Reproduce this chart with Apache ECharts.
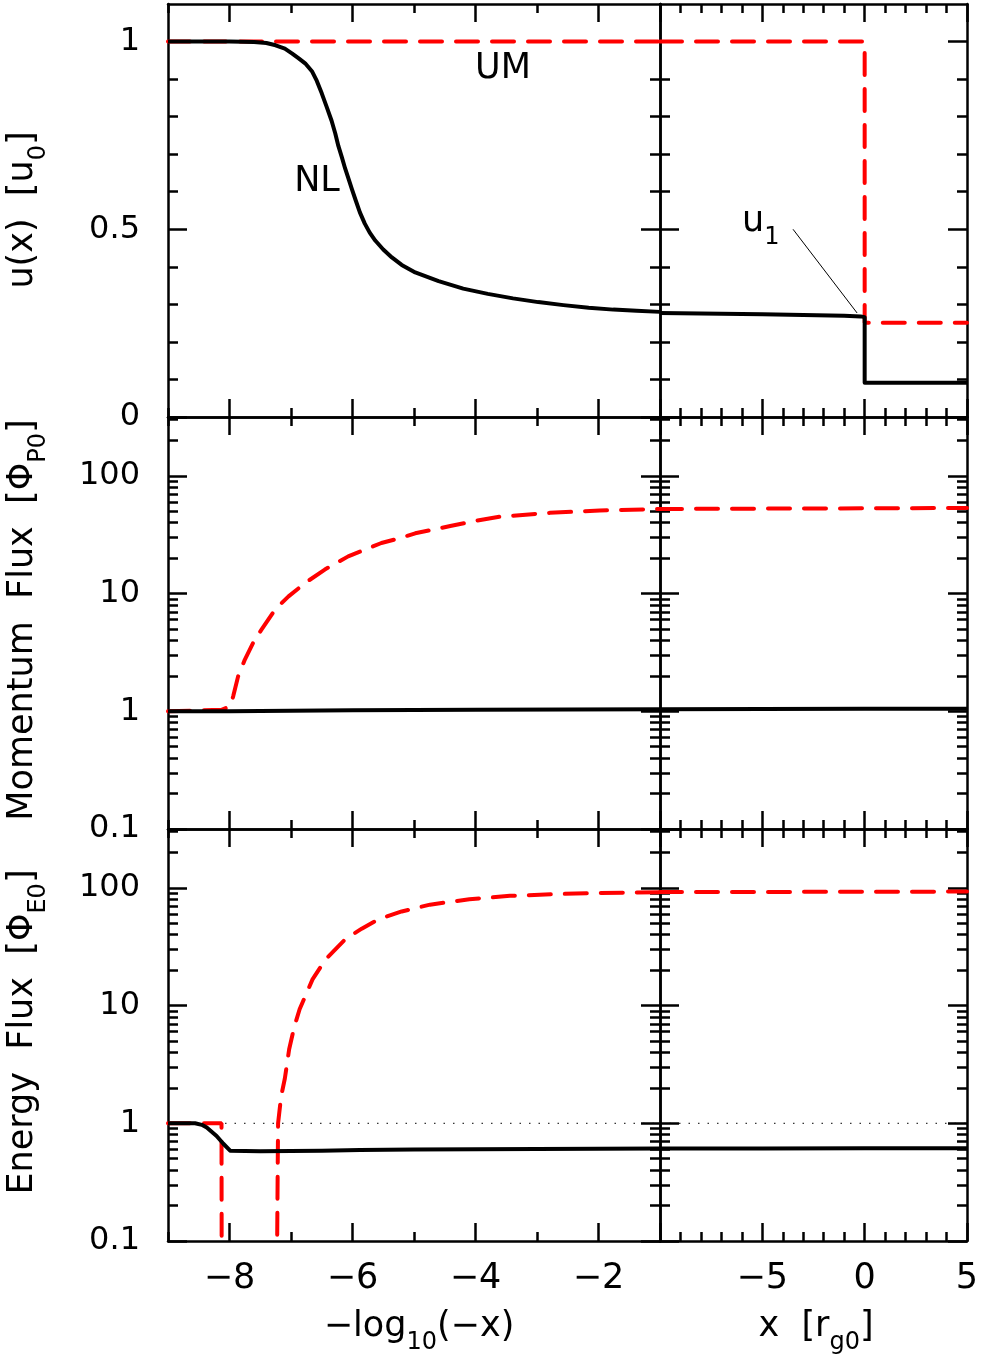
<!DOCTYPE html>
<html>
<head>
<meta charset="utf-8">
<script src="https://cdn.jsdelivr.net/npm/echarts@6/dist/echarts.min.js"></script>
<style>
  html, body { margin: 0; padding: 0; background: #fff; }
  #chart { width: 981px; height: 1363px; }
</style>
</head>
<body>
<div id="chart"></div>
<script>
// ---- ticks & labels ----
const xLeftMajor = [-8, -6, -4, -2];
const xLeftMinor = [-9, -7, -5, -3, -1];
const xLeftLabels = [-8, -6, -4, -2];
const xRightMajor = [-10, -5, 0, 5];
const xRightMinor = [-9, -8, -7, -6, -4, -3, -2, -1, 1, 2, 3, 4];
const xRightLabels = [-5, 0, 5];
const uMajor = [0, 0.5, 1];
const uMinor = [0.1, 0.2, 0.3, 0.4, 0.6, 0.7, 0.8, 0.9];
const uLabels = [0, 0.5, 1];
const fluxMajor = [0.1, 1, 10, 100];
const fluxMinor = [0.2, 0.3, 0.4, 0.5, 0.6, 0.7, 0.8, 0.9,
                   2, 3, 4, 5, 6, 7, 8, 9,
                   20, 30, 40, 50, 60, 70, 80, 90, 200, 300];
const fluxLabels = [0.1, 1, 10, 100];

// ---- u(x) ----
const uNlLog = [[-9, 1.0], [-8.5, 1.0], [-8.0, 1.0], [-7.6, 0.999], [-7.4, 0.996], [-7.25, 0.99],
  [-7.1, 0.981], [-6.98, 0.968], [-6.88, 0.956], [-6.77, 0.942], [-6.66, 0.921], [-6.58, 0.895],
  [-6.5, 0.862], [-6.42, 0.826], [-6.34, 0.789], [-6.28, 0.755], [-6.23, 0.722], [-6.17, 0.69],
  [-6.12, 0.662], [-6.06, 0.632], [-6.01, 0.607], [-5.95, 0.578], [-5.88, 0.545], [-5.8, 0.515],
  [-5.72, 0.491], [-5.63, 0.47], [-5.5, 0.446], [-5.36, 0.425], [-5.2, 0.405], [-4.98, 0.385],
  [-4.6, 0.362], [-4.2, 0.342], [-3.8, 0.328], [-3.39, 0.316], [-2.98, 0.306], [-2.57, 0.298],
  [-2.16, 0.291], [-1.76, 0.286], [-1.38, 0.283], [-1.0, 0.280]];
const uUmLog = [[-9, 1], [-1, 1]];
const uNlLin = [[-10, 0.277], [-5, 0.274], [-1, 0.27], [-0.2, 0.268], [0, 0.266], [0, 0.091], [5, 0.091]];
const uUmLin = [[-10, 1], [0, 1], [0, 0.251], [5, 0.251]];
const u1Pointer = [[-3.5, 0.5], [-0.37, 0.277]];

// ---- momentum flux ----
const pNlLog = [[-9, 1.0], [-8, 1.0], [-6, 1.02], [-4, 1.03], [-1, 1.04]];
const pUmLog = [[-9, 1.0], [-8.13, 1.03], [-7.99, 1.1], [-7.94, 1.34], [-7.86, 1.98], [-7.75, 2.75],
  [-7.59, 4.06], [-7.48, 4.94], [-7.26, 7.3], [-7.04, 9.47], [-6.77, 12.3], [-6.45, 16],
  [-6.07, 20.7], [-5.53, 26.9], [-5.23, 29.6], [-4.98, 32.5], [-4.41, 37.5], [-4.0, 41.5],
  [-3.6, 45.0], [-2.79, 48.5], [-1.98, 50.8], [-1.0, 52.3]];
const pNlLin = [[-10, 1.04], [0, 1.05], [5, 1.05]];
const pUmLin = [[-10, 52.3], [-5, 52.7], [0, 53], [5, 53.3]];

// ---- energy flux ----
const eNlLog = [[-9, 1.0], [-8.56, 1.0], [-8.45, 0.97], [-8.37, 0.92], [-8.21, 0.78], [-8.1, 0.67],
  [-7.99, 0.585], [-7.5, 0.58], [-6.5, 0.585], [-5.88, 0.594], [-5, 0.6], [-3, 0.605], [-1, 0.61]];
const eUmLog = [[-9, 1], [-8.13, 1], [-8.125, 0.01], [-7.23, 0.01], [-7.225, 0.1], [-7.215, 0.5],
  [-7.21, 1.0], [-7.16, 1.7], [-7.1, 2.4], [-7.03, 4.25], [-6.95, 6.5], [-6.86, 9.3], [-6.65, 16.7],
  [-6.44, 24.6], [-6.12, 36.5], [-5.85, 45], [-5.58, 54], [-5.2, 63], [-4.74, 72], [-4.1, 80],
  [-3.44, 85.5], [-2.7, 88.5], [-1.98, 90.5], [-1, 92]];
const eNlLin = [[-10, 0.61], [-5, 0.612], [0, 0.615], [5, 0.615]];
const eUmLin = [[-10, 92], [5, 93]];
const unityLog = [[-9, 1], [-1, 1]];
const unityLin = [[-10, 1], [5, 1]];

const FONT = 'DejaVu Sans';
const fmt = (v) => (v < 0 ? '\u2212' + Math.abs(v) : String(v));

const cols = [
  { min: -9, max: -1, major: xLeftMajor, minor: xLeftMinor, labels: xLeftLabels },
  { min: -10, max: 5, major: xRightMajor, minor: xRightMinor, labels: xRightLabels },
];
const rows = [
  { type: 'value', min: 0, max: 1.1, major: uMajor, minor: uMinor, labels: uLabels },
  { type: 'log', min: 0.1, max: Math.pow(10, 2.5), major: fluxMajor, minor: fluxMinor, labels: fluxLabels },
  { type: 'log', min: 0.1, max: Math.pow(10, 2.5), major: fluxMajor, minor: fluxMinor, labels: fluxLabels },
];
const gridLeft = [168, 660];
const gridWidth = [492, 307];
const gridTop = [4, 417, 829];
const gridHeight = [413, 412, 412];

function makeAxis(grid, pos, sc, ticks, len, showLine, labels, fontSize, margin) {
  const ax = {
    type: sc.type || 'value',
    gridIndex: grid,
    position: pos,
    min: sc.min,
    max: sc.max,
    axisLine: { show: showLine, onZero: false, lineStyle: { color: '#000', width: 2.5 } },
    axisTick: { show: true, inside: true, length: len, customValues: ticks,
      lineStyle: { color: '#000', width: 2.5 } },
    minorTick: { show: false },
    splitLine: { show: false },
    axisLabel: { show: false },
  };
  if (sc.type === 'log') ax.logBase = 10;
  if (labels) {
    ax.axisLabel = { show: true, customValues: labels, formatter: fmt, color: '#000',
      fontFamily: FONT, fontSize: fontSize, margin: margin };
  }
  return ax;
}

const grids = [], xAxes = [], yAxes = [];
for (let r = 0; r < 3; r++) {
  for (let c = 0; c < 2; c++) {
    const g = grids.length;
    grids.push({ left: gridLeft[c], top: gridTop[r], width: gridWidth[c], height: gridHeight[r],
      outerBoundsMode: 'none', containLabel: false });
    const cx = cols[c], ry = rows[r];
    xAxes.push(makeAxis(g, 'bottom', cx, cx.major, 18, true, r === 2 ? cx.labels : null, 35, 20));
    xAxes.push(makeAxis(g, 'bottom', cx, cx.minor, 9, false, null));
    xAxes.push(makeAxis(g, 'top', cx, cx.major, 18, true, null));
    xAxes.push(makeAxis(g, 'top', cx, cx.minor, 9, false, null));
    yAxes.push(makeAxis(g, 'left', ry, ry.major, 19, true, c === 0 ? ry.labels : null, 32, 28));
    yAxes.push(makeAxis(g, 'left', ry, ry.minor, 10, false, null));
    yAxes.push(makeAxis(g, 'right', ry, ry.major, 19, true, null));
    yAxes.push(makeAxis(g, 'right', ry, ry.minor, 10, false, null));
  }
}

const RED = { color: '#ff0000', width: 4, type: [22, 14], cap: 'round' };
const BLACK = { color: '#000000', width: 4, join: 'round' };
const DOT = { color: '#000000', width: 1, type: [1.5, 8] };
const THIN = { color: '#000000', width: 1 };

const curves = [
  [0, uUmLog, RED], [0, uNlLog, BLACK],
  [1, uUmLin, RED], [1, uNlLin, BLACK], [1, u1Pointer, THIN],
  [2, pUmLog, RED], [2, pNlLog, BLACK],
  [3, pUmLin, RED], [3, pNlLin, BLACK],
  [4, unityLog, DOT], [4, eUmLog, RED], [4, eNlLog, BLACK],
  [5, unityLin, DOT], [5, eUmLin, RED], [5, eNlLin, BLACK],
];

const series = curves.map(([g, data, style]) => ({
  type: 'line',
  xAxisIndex: g * 4,
  yAxisIndex: g * 4,
  data: data,
  showSymbol: false,
  symbol: 'none',
  clip: true,
  lineStyle: style,
  silent: true,
}));

// subscripts: both tokens bottom-aligned; bottom padding lifts the main text
const rich = {
  m: { fontFamily: FONT, fontSize: 35, padding: [0, 0, 10, 0], verticalAlign: 'bottom', fill: '#000' },
  s: { fontFamily: FONT, fontSize: 24, verticalAlign: 'bottom', fill: '#000' },
};
function label(text, x, y, opts) {
  return Object.assign({
    type: 'text', x: x, y: y,
    style: { text: text, rich: rich, fill: '#000', fontFamily: FONT, fontSize: 35,
      align: 'center', verticalAlign: 'middle' },
  }, opts || {});
}

const chart = echarts.init(document.getElementById('chart'), null, { renderer: 'canvas', width: 981, height: 1363 });
chart.setOption({
  animation: false,
  backgroundColor: '#ffffff',
  grid: grids,
  xAxis: xAxes,
  yAxis: yAxes,
  series: series,
  graphic: [
    label('{m|u(x)  [u}{s|0}{m|]}', 28, 210, { rotation: Math.PI / 2 }),
    label('{m|Momentum  Flux  [\u03A6}{s|P0}{m|]}', 28, 620, { rotation: Math.PI / 2 }),
    label('{m|Energy  Flux  [\u03A6}{s|E0}{m|]}', 28, 1032, { rotation: Math.PI / 2 }),
    label('{m|\u2212log}{s|10}{m|(\u2212x)}', 419, 1332),
    label('{m|x  [r}{s|g0}{m|]}', 816, 1332),
    { type: 'text', x: 503, y: 69,
      style: { text: 'UM', fill: '#000', fontFamily: FONT, fontSize: 35, align: 'center', verticalAlign: 'middle' } },
    { type: 'text', x: 317, y: 182,
      style: { text: 'NL', fill: '#000', fontFamily: FONT, fontSize: 35, align: 'center', verticalAlign: 'middle' } },
    { type: 'text', x: 742, y: 227,
      style: { text: '{m|u}{s|1}', rich: rich, fill: '#000', fontFamily: FONT, fontSize: 35,
        align: 'left', verticalAlign: 'middle' } },
  ],
});
</script>
</body>
</html>
